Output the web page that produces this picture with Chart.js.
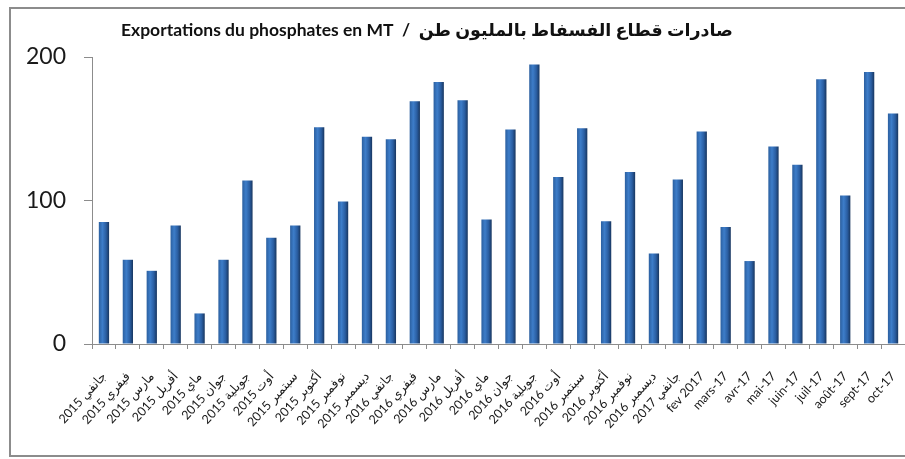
<!DOCTYPE html>
<html>
<head>
<meta charset="utf-8">
<script src="https://cdn.jsdelivr.net/npm/chart.js@4.4.0/dist/chart.umd.min.js"></script>
<style>
  html, body { margin: 0; padding: 0; background: #fff; }
  #wrap { width: 905px; height: 459px; position: relative; }
</style>
</head>
<body>
<div id="wrap"><canvas id="chart"></canvas></div>
<script>
// categories (month labels) and values
const months = [
  'جانفي 2015', 'فيفري 2015', 'مارس 2015', 'أفريل 2015', 'ماي 2015', 'جوان 2015',
  'جويلية 2015', 'أوت 2015', 'سبتمبر 2015', 'أكتوبر 2015', 'نوفمبر 2015', 'ديسمبر 2015',
  'جانفي 2016', 'فيفري 2016', 'مارس 2016', 'أفريل 2016', 'ماي 2016', 'جوان 2016',
  'جويلية 2016', 'أوت 2016', 'سبتمبر 2016', 'أكتوبر 2016', 'نوفمبر 2016', 'ديسمبر 2016',
  'جانفي 2017', 'fev 2017', 'mars-17', 'avr-17', 'mai-17', 'juin-17',
  'juil-17', 'août-17', 'sept-17', 'oct-17'
];
const exportValues = [
  85, 58.7, 51, 82.6, 21.3, 58.7, 114, 74, 82.6, 151, 99.3, 144.5,
  142.7, 169.2, 182.6, 169.9, 86.8, 149.5, 194.7, 116.3, 150.4, 85.6, 119.8, 63.1,
  114.6, 148.1, 81.5, 57.8, 137.6, 124.9, 184.5, 103.5, 189.6, 160.6
];
const yTicks = [0, 100, 200];
const titleText = 'Exportations du phosphates en MT  /  صادرات قطاع الفسفاط بالمليون طن';

const BAR_PCT = 0.43;

// outer frame + title
const framePlugin = {
  id: 'frame',
  beforeDraw(chart) {
    const ctx = chart.ctx;
    ctx.save();
    ctx.fillStyle = '#fff';
    ctx.fillRect(0, 0, chart.width, chart.height);
    ctx.strokeStyle = '#8c8c8c';
    ctx.lineWidth = 2;
    ctx.strokeRect(10, 8, 905, 448);
    ctx.fillStyle = '#111';
    ctx.font = 'bold 17.5px Lato, "DejaVu Sans"';
    ctx.textAlign = 'center';
    ctx.textBaseline = 'middle';
    ctx.fillText(titleText, 427, 30);
    ctx.restore();
  }
};

function barFill(c) {
  const chart = c.chart;
  const xs = chart.scales.x;
  if (!chart.chartArea || !xs || xs.width == null) return '#2c62a8';
  const cx = xs.getPixelForValue(c.dataIndex);
  const half = (xs.width / months.length) * BAR_PCT / 2;
  const g = chart.ctx.createLinearGradient(cx - half, 0, cx + half, 0);
  g.addColorStop(0, '#2b5f9f');
  g.addColorStop(0.35, '#3d7dc9');
  g.addColorStop(0.7, '#2a5ea2');
  g.addColorStop(1, '#18365f');
  return g;
}

new Chart(document.getElementById('chart'), {
  type: 'bar',
  data: {
    labels: months,
    datasets: [{
      data: exportValues,
      backgroundColor: barFill,
      borderWidth: 0,
      categoryPercentage: 1,
      barPercentage: BAR_PCT
    }]
  },
  options: {
    responsive: true,
    maintainAspectRatio: false,
    animation: false,
    layout: { padding: { top: 57, left: 9, right: 0, bottom: 0 } },
    plugins: {
      legend: { display: false },
      tooltip: { enabled: false }
    },
    scales: {
      x: {
        grid: { display: true, drawOnChartArea: false, tickLength: 5, color: '#8c8c8c', offset: true },
        border: { display: true, color: '#8c8c8c', width: 1 },
        ticks: {
          autoSkip: false,
          minRotation: 48,
          maxRotation: 48,
          padding: 20,
          color: '#1a1a1a',
          font: { family: 'Lato, "DejaVu Sans"', size: 12.5 }
        },
        afterFit(s) {
          s.height = 115;
          s.paddingLeft = 0;
          s.paddingRight = 0;
        }
      },
      y: {
        min: 0,
        max: 200,
        grid: { display: true, drawOnChartArea: false, tickLength: 8, color: '#8c8c8c' },
        border: { display: true, color: '#8c8c8c', width: 1 },
        ticks: {
          padding: 18,
          color: '#1a1a1a',
          font: { family: 'Lato, "DejaVu Sans"', size: 23 }
        },
        afterBuildTicks(s) {
          s.ticks = yTicks.map(v => ({ value: v }));
        },
        afterFit(s) {
          s.width = 83;
          s.paddingTop = 0;
          s.paddingBottom = 0;
        }
      }
    }
  },
  plugins: [framePlugin]
});
</script>
</body>
</html>
